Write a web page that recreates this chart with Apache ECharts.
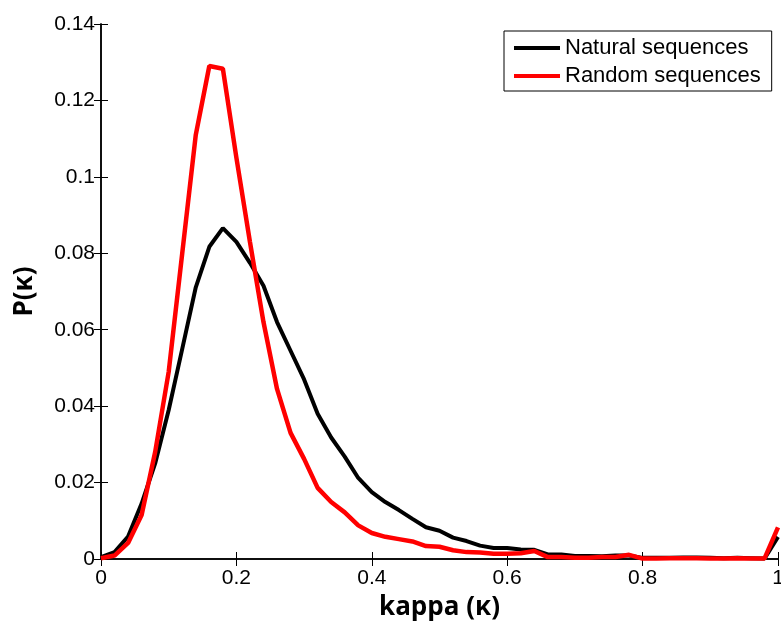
<!DOCTYPE html>
<html>
<head>
<meta charset="utf-8">
<script src="https://cdn.jsdelivr.net/npm/echarts@6/dist/echarts.min.js"></script>
<style>
html,body{margin:0;padding:0;background:#fff;}
#chart{width:781px;height:621px;}
</style>
</head>
<body>
<div id="chart"></div>
<script>
const kappa = [0,0.02,0.04,0.06,0.08,0.10,0.12,0.14,0.16,0.18,0.20,0.22,0.24,0.26,0.28,0.30,0.32,0.34,0.36,0.38,0.40,0.42,0.44,0.46,0.48,0.50,0.52,0.54,0.56,0.58,0.60,0.62,0.64,0.66,0.68,0.70,0.72,0.74,0.76,0.78,0.80,0.82,0.84,0.86,0.88,0.90,0.92,0.94,0.96,0.98,1.00];
const natural = [0.0005,0.0018,0.0059,0.0145,0.025,0.039,0.055,0.0711,0.0817,0.0866,0.083,0.0775,0.0715,0.062,0.0545,0.047,0.038,0.0318,0.0268,0.0212,0.0175,0.0149,0.0128,0.0105,0.0083,0.0074,0.0056,0.0047,0.0035,0.0029,0.0029,0.0025,0.0024,0.0012,0.0012,0.0008,0.0008,0.0007,0.0009,0.0009,0.0003,0.0003,0.0003,0.0004,0.0004,0.0003,0.0002,0.0003,0.0002,0.0001,0.0058];
const random = [0.0002,0.0009,0.0042,0.0115,0.028,0.049,0.080,0.111,0.1290,0.1283,0.105,0.083,0.062,0.0445,0.033,0.0262,0.0186,0.0149,0.0122,0.0088,0.0068,0.0058,0.0052,0.0046,0.0034,0.0032,0.0023,0.0018,0.0017,0.0014,0.0014,0.0015,0.0021,0.0005,0.0005,0.0003,0.0003,0.0005,0.0005,0.0011,0.0001,0.0001,0.0002,0.0002,0.0002,0.0001,0.0001,0.0002,0.0001,0.0001,0.0083];
const seriesNames = ['Natural sequences','Random sequences'];
const xTicks = [0,0.2,0.4,0.6,0.8,1];
const yTicks = [0,0.02,0.04,0.06,0.08,0.1,0.12,0.14];

const tickFont = {fontFamily:'Liberation Sans', fontSize:21, color:'#000'};
const chart = echarts.init(document.getElementById('chart'), null, {renderer:'canvas'});
const pairs = arr => kappa.map((k,i)=>[k,arr[i]]);
const axisLine = {show:true, lineStyle:{color:'#000', width:1.5}};
chart.setOption({
  animation:false,
  backgroundColor:'#fff',
  grid:{left:101, right:3, top:24, bottom:62, containLabel:false, outerBoundsMode:'none'},
  legend:{
    left:504, top:31, orient:'vertical',
    padding:[6,11,4,10], itemGap:6,
    backgroundColor:'#fff', borderColor:'#000', borderWidth:1, borderRadius:0,
    icon:'rect', itemWidth:46, itemHeight:4,
    textStyle:{fontFamily:'Liberation Sans', fontSize:22, color:'#000'},
    data:seriesNames
  },
  xAxis:[{
    type:'value', min:xTicks[0], max:xTicks[xTicks.length-1], interval:0.2,
    position:'bottom',
    name:'kappa (\u03ba)', nameLocation:'middle', nameGap:36,
    nameTextStyle:{fontFamily:'Open Sans', fontWeight:'bold', fontSize:26, color:'#000'},
    axisLine:axisLine, axisTick:{show:true, inside:true, length:7, lineStyle:{color:'#000'}},
    axisLabel:{...tickFont, margin:9},
    splitLine:{show:false}
  },{
    type:'value', min:0, max:1, interval:0.2, position:'top',
    axisLine:axisLine, axisTick:{show:true, inside:true, length:7, lineStyle:{color:'#000'}},
    axisLabel:{show:false}, splitLine:{show:false}
  }],
  yAxis:[{
    type:'value', min:yTicks[0], max:yTicks[yTicks.length-1], interval:0.02,
    position:'left',
    name:'P(\u03ba)', nameLocation:'middle', nameGap:63, nameRotate:90,
    nameTextStyle:{fontFamily:'Open Sans', fontWeight:'bold', fontSize:26, color:'#000'},
    axisLine:axisLine, axisTick:{show:true, inside:true, length:7, lineStyle:{color:'#000'}},
    axisLabel:{...tickFont, margin:6},
    splitLine:{show:false}
  },{
    type:'value', min:0, max:0.14, interval:0.02, position:'right',
    axisLine:axisLine, axisTick:{show:true, inside:true, length:7, lineStyle:{color:'#000'}},
    axisLabel:{show:false}, splitLine:{show:false}
  }],
  series:[
    {name:seriesNames[0], type:'line', data:pairs(natural), showSymbol:false, symbol:'none',
     lineStyle:{color:'#000', width:4}, itemStyle:{color:'#000'}, clip:true},
    {name:seriesNames[1], type:'line', data:pairs(random), showSymbol:false, symbol:'none',
     lineStyle:{color:'#ff0000', width:4.5}, itemStyle:{color:'#ff0000'}, clip:true}
  ]
});
</script>
</body>
</html>
